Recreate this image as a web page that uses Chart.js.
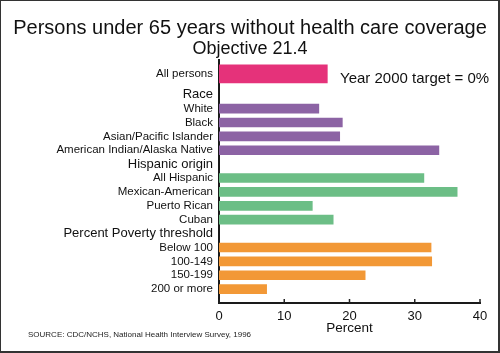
<!DOCTYPE html>
<html>
<head>
<meta charset="utf-8">
<script src="https://cdn.jsdelivr.net/npm/chart.js@4/dist/chart.umd.min.js"></script>
<style>
  html, body { margin: 0; padding: 0; background: #fff; }
  #wrap { position: relative; width: 500px; height: 353px; overflow: hidden; background: #fff; }
  #c { position: absolute; left: 0; top: 0; }
  .txt { position: absolute; font-family: "Liberation Sans", Arial, Helvetica, sans-serif; color: #111; white-space: nowrap; line-height: 1; }
  .center { left: 0; width: 500px; text-align: center; }
  #title { top: 17px; font-size: 20px; }
  #subtitle { top: 39px; font-size: 18px; }
  #target { left: 340px; top: 70px; font-size: 15px; }
  #source { left: 28px; top: 331px; font-size: 8px; color: #222; }
  #frame { position: absolute; left: 0; top: 0; width: 500px; height: 353px; box-sizing: border-box;
           border-top: 1px solid #333; border-left: 1px solid #333; border-right: 2px solid #333; border-bottom: 2px solid #333; pointer-events: none; }
</style>
</head>
<body>
<div id="wrap">
  <canvas id="c" width="500" height="353"></canvas>
  <div class="txt center" id="title"></div>
  <div class="txt center" id="subtitle"></div>
  <div class="txt" id="target"></div>
  <div class="txt" id="source"></div>
  <div id="frame"></div>
</div>
<script>
// ---- data ----
const titleText = 'Persons under 65 years without health care coverage';
const subtitleText = 'Objective 21.4';
const targetText = 'Year 2000 target = 0%';
const sourceText = 'SOURCE: CDC/NCHS, National Health Interview Survey, 1996';
const xAxisTitle = 'Percent';

const overallLabels = ['All persons'];
const overallValues = [16.6];

const groupHeadings = ['Race', 'Hispanic origin', 'Percent Poverty threshold'];

const raceLabels = ['White', 'Black', 'Asian/Pacific Islander', 'American Indian/Alaska Native'];
const raceValues = [15.3, 18.9, 18.5, 33.7];

const hispanicLabels = ['All Hispanic', 'Mexican-American', 'Puerto Rican', 'Cuban'];
const hispanicValues = [31.4, 36.5, 14.3, 17.5];

const povertyLabels = ['Below 100', '100-149', '150-199', '200 or more'];
const povertyValues = [32.5, 32.6, 22.4, 7.3];

const xTicks = [0, 10, 20, 30, 40];

document.getElementById('title').textContent = titleText;
document.getElementById('subtitle').textContent = subtitleText;
document.getElementById('target').textContent = targetText;
document.getElementById('source').textContent = sourceText;

// ---- build the category rows (half-row resolution, blank spacer rows) ----
const keys = ['overall', 'race', 'hispanic', 'poverty'];
const rowLabels = [];
const series = { overall: [], race: [], hispanic: [], poverty: [] };
function pushRow(label, key, value) {
  rowLabels.push(label);
  keys.forEach(k => series[k].push(k === key ? value : null));
}
pushRow('', null); pushRow('', null);
overallLabels.forEach((l, i) => pushRow(l, 'overall', overallValues[i]));
pushRow('', null); pushRow('', null);
const groups = [
  [raceLabels, raceValues, 'race'],
  [hispanicLabels, hispanicValues, 'hispanic'],
  [povertyLabels, povertyValues, 'poverty']
];
groups.forEach(([labs, vals, key], g) => {
  pushRow(groupHeadings[g], null);
  pushRow('', null);
  labs.forEach((l, i) => { pushRow(l, key, vals[i]); pushRow('', null); });
});
pushRow('', null);

const FONT = '"Liberation Sans", Arial, Helvetica, sans-serif';

const innerTicks = {
  id: 'innerTicks',
  afterDatasetsDraw(chart) {
    const x = chart.scales.x, ctx = chart.ctx, b = chart.chartArea.bottom;
    ctx.save();
    ctx.strokeStyle = '#222';
    ctx.lineWidth = 1.5;
    x.ticks.forEach(t => {
      const px = x.getPixelForValue(t.value);
      ctx.beginPath();
      ctx.moveTo(px, b);
      ctx.lineTo(px, b - 4);
      ctx.stroke();
    });
    ctx.restore();
  }
};

new Chart(document.getElementById('c'), {
  type: 'bar',
  data: {
    labels: rowLabels,
    datasets: [
      { data: series.overall, backgroundColor: '#E5327A', barThickness: 18 },
      { data: series.race, backgroundColor: '#8C63A4', barThickness: 9 },
      { data: series.hispanic, backgroundColor: '#6CBE86', barThickness: 9 },
      { data: series.poverty, backgroundColor: '#F29836', barThickness: 9 }
    ]
  },
  options: {
    indexAxis: 'y',
    responsive: false,
    animation: false,
    layout: { padding: { left: 0, right: 20, top: 60, bottom: 0 } },
    datasets: { bar: { grouped: false } },
    plugins: {
      legend: { display: false },
      tooltip: { enabled: false },
      title: { display: false },
      subtitle: { display: false }
    },
    scales: {
      y: {
        type: 'category',
        offset: false,
        grid: { display: false, drawTicks: false },
        border: { display: true, color: '#1a1a1a', width: 2 },
        ticks: {
          autoSkip: false,
          padding: 6,
          color: '#111',
          font: (ctx) => {
            const lab = ctx.tick ? ctx.tick.label : '';
            return groupHeadings.includes(lab)
              ? { family: FONT, size: 13, weight: 'normal' }
              : { family: FONT, size: 11.5, weight: 'normal' };
          }
        },
        afterFit: (s) => { s.width = 219; }
      },
      x: {
        type: 'linear',
        min: xTicks[0],
        max: xTicks[xTicks.length - 1],
        afterBuildTicks: (s) => { s.ticks = xTicks.map(v => ({ value: v })); },
        grid: { display: false, drawTicks: false },
        border: { display: true, color: '#1a1a1a', width: 2 },
        ticks: { padding: 6, color: '#111', font: { family: FONT, size: 13 } },
        title: {
          display: true, text: xAxisTitle, color: '#111',
          font: { family: FONT, size: 13.5, lineHeight: 1.2 },
          padding: { top: 0, bottom: 17 }
        },
        afterFit: (s) => { s.height = 50; }
      }
    }
  },
  plugins: [innerTicks]
});
</script>
</body>
</html>
